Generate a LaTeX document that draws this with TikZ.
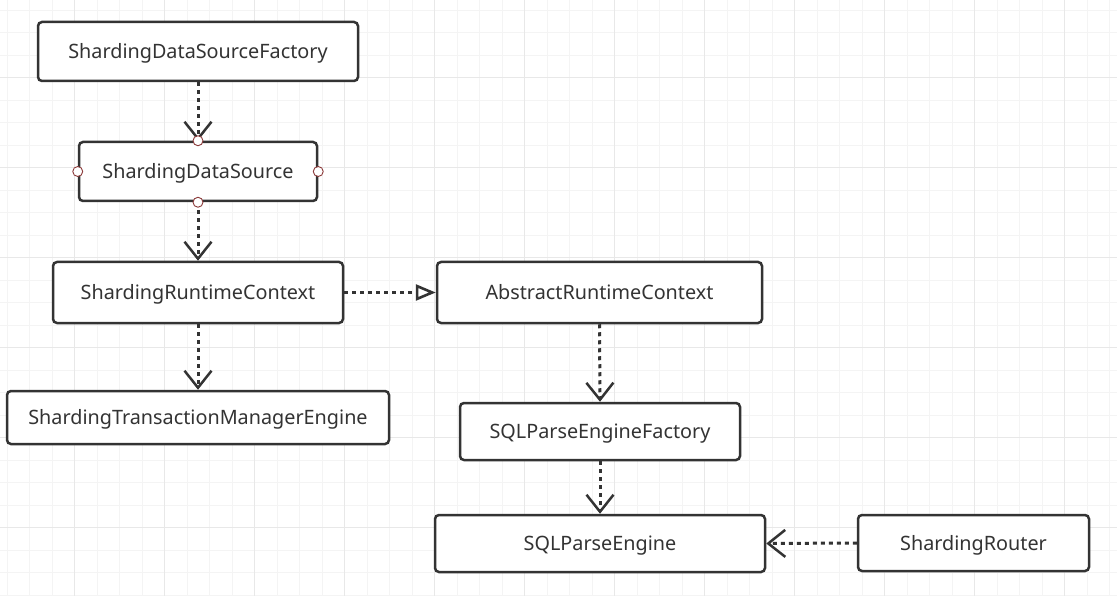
\documentclass[tikz,border=0pt]{standalone}
\usepackage{fontspec}
\setmainfont{Noto Sans}
\usetikzlibrary{arrows.meta}
\definecolor{ink}{HTML}{333333}
\definecolor{gminor}{HTML}{F4F4F4}
\definecolor{gmajor}{HTML}{E8E8E8}
\definecolor{port}{HTML}{8B3A3A}
\tikzset{
  box/.style={draw=ink, line width=2.5pt, rounded corners=4pt, fill=white, inner sep=0pt,
    font=\fontsize{19.8}{22}\selectfont, text=ink, text height=17pt, text depth=2.5pt},
  dep/.style={draw=ink, line width=3pt, dash pattern=on 4pt off 4pt,
    -{Straight Barb[length=17pt, width=27pt, line width=2.5pt, sep=0pt]}},
  real/.style={draw=ink, line width=3pt, dash pattern=on 4pt off 4pt,
    -{Triangle[open, length=20pt, width=16pt, line width=2.6pt, fill=white]}},
  portc/.style={circle, draw=port, fill=white, line width=0.9pt, minimum size=10pt, inner sep=0pt},
}
\begin{document}
\begin{tikzpicture}[x=1pt,y=-1pt]
\useasboundingbox (0,0) rectangle (1117,596);
\fill[white] (0,0) rectangle (1117,596);
% grid
\foreach \i in {0,...,49} {
  \pgfmathsetmacro\gx{7.2+22.5*\i}
  \draw[gminor, line width=1pt] (\gx,0) -- (\gx,596);
}
\foreach \i in {0,...,26} {
  \pgfmathsetmacro\gy{10.2+22.5*\i}
  \draw[gminor, line width=1pt] (0,\gy) -- (1117,\gy);
}
\foreach \i in {0,...,12} {
  \pgfmathsetmacro\gx{74.7+90*\i}
  \draw[gmajor, line width=1.2pt] (\gx,0) -- (\gx,596);
}
\foreach \i in {0,...,6} {
  \pgfmathsetmacro\gy{77.7+90*\i}
  \draw[gmajor, line width=1.2pt] (0,\gy) -- (1117,\gy);
}
% boxes
\node[box, minimum width=320pt, minimum height=59pt] (f) at (198,51.5) {ShardingDataSourceFactory};
\node[box, minimum width=238pt, minimum height=59pt] (ds) at (198,171.5) {ShardingDataSource};
\node[box, minimum width=290pt, minimum height=61pt] (rc) at (198,292.5) {ShardingRuntimeContext};
\node[box, minimum width=382pt, minimum height=53pt] (tm) at (198,417.5) {ShardingTransactionManagerEngine};
\node[box, minimum width=325pt, minimum height=61pt] (arc) at (599.5,292.5) {AbstractRuntimeContext};
\node[box, minimum width=280pt, minimum height=57pt] (pef) at (600,431.5) {SQLParseEngineFactory};
\node[box, minimum width=330pt, minimum height=57pt] (pe) at (600,543.5) {SQLParseEngine};
\node[box, minimum width=231pt, minimum height=56pt] (sr) at (973.5,543) {ShardingRouter};
% connectors
\draw[dep] (f.south) -- (ds.north);
\draw[dep] (ds.south) -- (rc.north);
\draw[dep] (rc.south) -- (tm.north);
\draw[real] (rc.east) -- (arc.west);
\draw[dep] (arc.south) -- (pef.north);
\draw[dep] (pef.south) -- (pe.north);
\draw[dep] (sr.west) -- (pe.east);
% ports
\node[portc] (p1) at (ds.north) {};
\node[portc] (p2) at (ds.south) {};
\node[portc] (p3) at (ds.west) {};
\node[portc] (p4) at (ds.east) {};
\end{tikzpicture}
\end{document}
